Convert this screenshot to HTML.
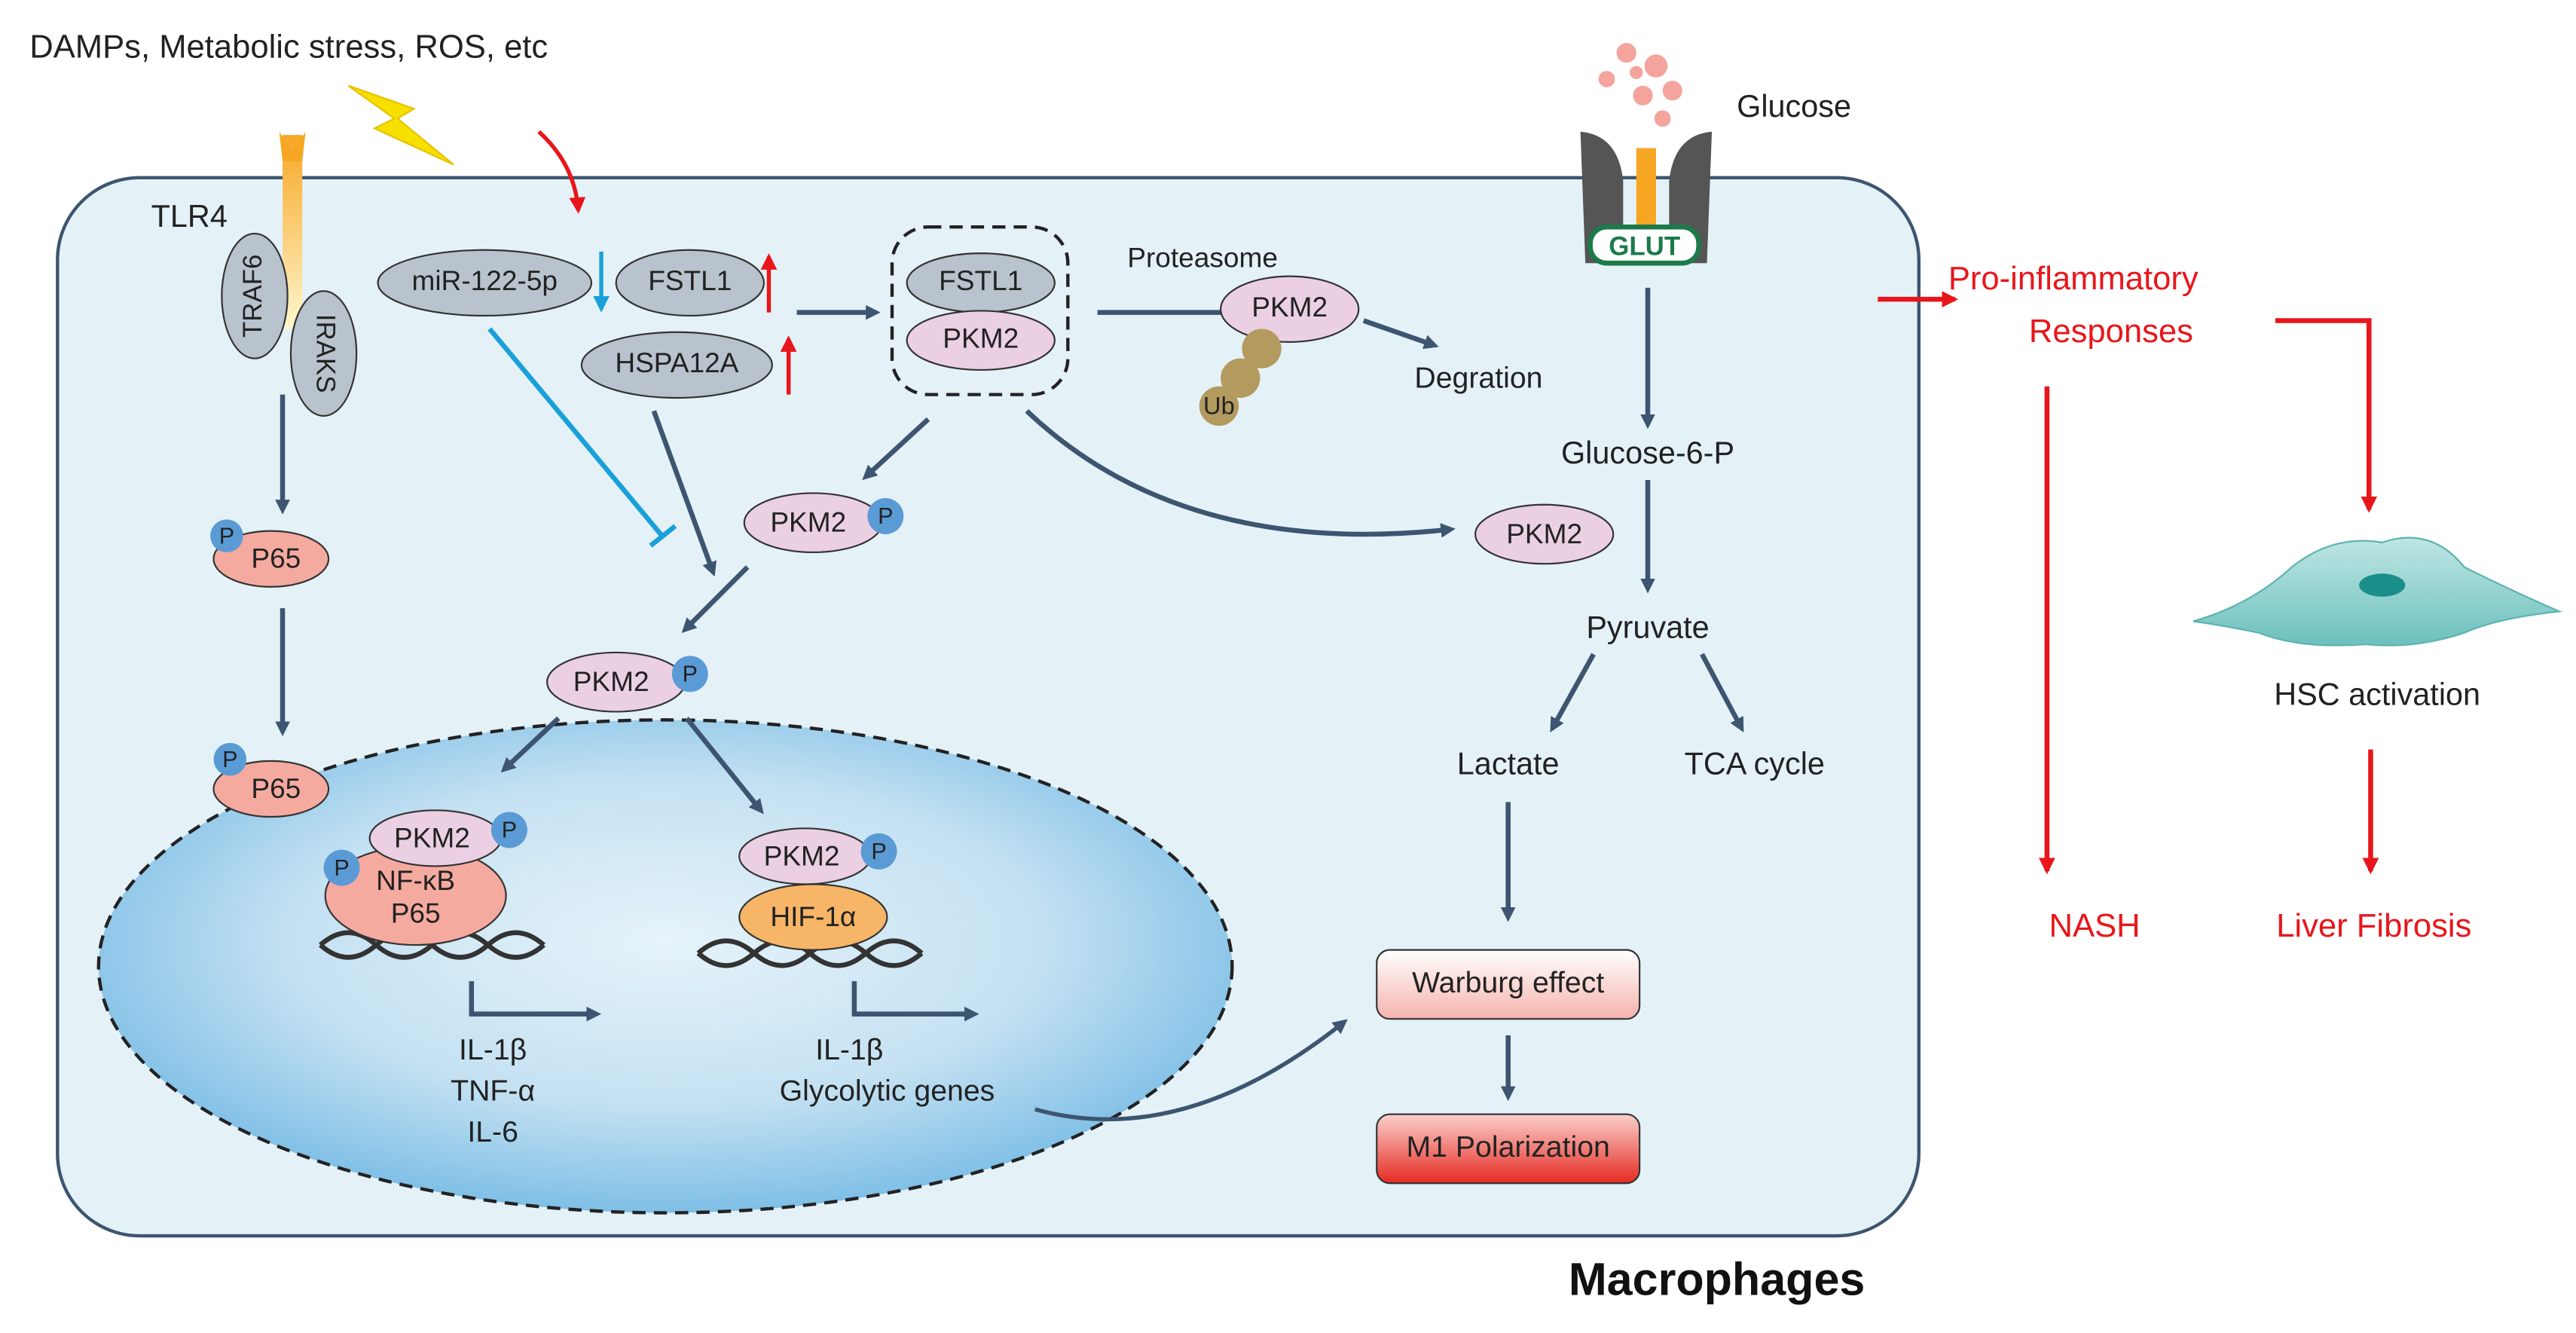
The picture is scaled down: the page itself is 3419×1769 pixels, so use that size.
<!DOCTYPE html>
<html><head><meta charset="utf-8"><style>html,body{margin:0;padding:0;background:#fff}svg{display:block}text{font-family:"Liberation Sans",Arial,sans-serif}</style></head><body>
<svg width="3419" height="1769" viewBox="0 0 1568 811" xmlns="http://www.w3.org/2000/svg">
<defs>
<radialGradient id="nuc" cx="50%" cy="45%" r="55%"><stop offset="0" stop-color="#e6f3fa"/><stop offset="0.6" stop-color="#c4e1f2"/><stop offset="1" stop-color="#7fbfe6"/></radialGradient>
<linearGradient id="wb" x1="0" y1="0" x2="0" y2="1"><stop offset="0" stop-color="#fff"/><stop offset="1" stop-color="#f5b3ad"/></linearGradient>
<linearGradient id="m1" x1="0" y1="0" x2="0" y2="1"><stop offset="0" stop-color="#fbd0cc"/><stop offset="1" stop-color="#e52a22"/></linearGradient>
<linearGradient id="tlr" x1="0" y1="0" x2="0" y2="1"><stop offset="0" stop-color="#f6a623"/><stop offset="1" stop-color="#fff7d0"/></linearGradient>
<linearGradient id="hsc" x1="0" y1="0" x2="0" y2="1"><stop offset="0" stop-color="#bfe6e4"/><stop offset="1" stop-color="#6cc0bd"/></linearGradient>
<marker id="ad" markerWidth="9" markerHeight="9" refX="6" refY="4.5" orient="auto" markerUnits="userSpaceOnUse"><path d="M0,0 L9,4.5 L0,9 Z" fill="#3d5570"/></marker>
<marker id="ar" markerWidth="10" markerHeight="10" refX="8" refY="5" orient="auto" markerUnits="userSpaceOnUse"><path d="M0,0 L10,5 L0,10 Z" fill="#e8161b"/></marker>
<marker id="ab" markerWidth="10" markerHeight="10" refX="8" refY="5" orient="auto" markerUnits="userSpaceOnUse"><path d="M0,0 L10,5 L0,10 Z" fill="#1aa0d8"/></marker>
</defs>
<text x="18" y="35" font-size="20" fill="#222">DAMPs, Metabolic stress, ROS, etc</text>
<polygon points="212,52 252,66 242,72 276,100 228,78 240,72" fill="#f7e000" stroke="#e6c200"/>
<rect x="35" y="108" width="1133" height="644" rx="50" fill="#e4f2f8" stroke="#3d5570" stroke-width="2"/>
<path d="M328,80 Q350,100 352,128" stroke="#e8161b" stroke-width="2.5" fill="none" marker-end="url(#ar)"/>
<ellipse cx="405" cy="588" rx="345" ry="150" fill="url(#nuc)" stroke="#222" stroke-width="2" stroke-dasharray="8,5"/>
<rect x="172" y="82" width="12" height="118" fill="url(#tlr)"/>
<polygon points="170,80 178,92 186,80 184,98 172,98" fill="#f6a623"/>
<text x="92" y="138" font-size="19" fill="#222">TLR4</text>
<ellipse cx="155" cy="180" rx="20" ry="38" fill="#b9c3cd" stroke="#333"/>
<text x="155" y="180" font-size="16" fill="#222" text-anchor="middle" dominant-baseline="middle" transform="rotate(-90 155 180)">TRAF6</text>
<ellipse cx="197" cy="215" rx="20" ry="38" fill="#b9c3cd" stroke="#333"/>
<text x="197" y="215" font-size="16" fill="#222" text-anchor="middle" dominant-baseline="middle" transform="rotate(90 197 215)">IRAKS</text>
<g stroke="#3d5570" stroke-width="3" fill="none" marker-end="url(#ad)">
<line x1="172" y1="240" x2="172" y2="310"/><line x1="172" y1="370" x2="172" y2="445"/>
<line x1="485" y1="190" x2="533" y2="190"/>
<line x1="398" y1="250" x2="434" y2="348"/>
<line x1="565" y1="255" x2="527" y2="290"/>
<path d="M625,250 Q720,340 883,322"/>
<line x1="455" y1="345" x2="417" y2="383"/>
<line x1="340" y1="437" x2="307" y2="468"/><line x1="418" y1="437" x2="463" y2="493"/>
<polyline points="287,597 287,617 363,617"/><polyline points="520,597 520,617 593,617"/>
<path d="M630,675 Q720,700 818,622" stroke-width="2.5"/>
<line x1="830" y1="195" x2="873" y2="210"/>
<line x1="1003" y1="175" x2="1003" y2="258"/><line x1="1003" y1="292" x2="1003" y2="358"/>
<line x1="970" y1="398" x2="945" y2="443"/><line x1="1036" y1="398" x2="1060" y2="443"/>
<line x1="918" y1="488" x2="918" y2="558"/><line x1="918" y1="630" x2="918" y2="667"/>
</g>
<line x1="668" y1="190" x2="762" y2="190" stroke="#3d5570" stroke-width="3"/><line x1="764" y1="180" x2="764" y2="200" stroke="#3d5570" stroke-width="3"/>
<line x1="298" y1="200" x2="403" y2="326" stroke="#1aa0d8" stroke-width="3"/><line x1="396" y1="332" x2="411" y2="320" stroke="#1aa0d8" stroke-width="3"/>
<line x1="366" y1="153" x2="366" y2="188" stroke="#1aa0d8" stroke-width="2.5" marker-end="url(#ab)"/>
<line x1="468" y1="190" x2="468" y2="156" stroke="#e8161b" stroke-width="2.5" marker-end="url(#ar)"/>
<line x1="480" y1="240" x2="480" y2="206" stroke="#e8161b" stroke-width="2.5" marker-end="url(#ar)"/>
<g font-size="17" fill="#222" text-anchor="middle" dominant-baseline="middle">
<ellipse cx="295" cy="172" rx="65" ry="20" fill="#b9c3cd" stroke="#333"/><text x="295" y="172">miR-122-5p</text>
<ellipse cx="420" cy="172" rx="45" ry="20" fill="#b9c3cd" stroke="#333"/><text x="420" y="172">FSTL1</text>
<ellipse cx="412" cy="222" rx="58" ry="20" fill="#b9c3cd" stroke="#333"/><text x="412" y="222">HSPA12A</text>
<rect x="543" y="138" width="107" height="102" rx="22" fill="none" stroke="#222" stroke-width="2" stroke-dasharray="8,5"/>
<ellipse cx="597" cy="172" rx="45" ry="18" fill="#b9c3cd" stroke="#333"/><text x="597" y="172">FSTL1</text>
<ellipse cx="597" cy="207" rx="45" ry="18" fill="#ebd0e3" stroke="#333"/><text x="597" y="207">PKM2</text>
<text x="732" y="158">Proteasome</text>
<ellipse cx="785" cy="188" rx="42" ry="20" fill="#ebd0e3" stroke="#333"/><text x="785" y="188">PKM2</text>
<circle cx="768" cy="212" r="12" fill="#b39a5e"/><circle cx="755" cy="230" r="12" fill="#b39a5e"/><circle cx="742" cy="247" r="12" fill="#b39a5e"/><text x="742" y="248" font-size="15">Ub</text>
<text x="900" y="231" font-size="18">Degration</text>
<ellipse cx="165" cy="340" rx="35" ry="17" fill="#f5aaa0" stroke="#333"/><text x="168" y="341">P65</text>
<circle cx="138" cy="326" r="10" fill="#5b9bd5"/><text x="138" y="327" font-size="14">P</text>
<ellipse cx="165" cy="480" rx="35" ry="17" fill="#f5aaa0" stroke="#333"/><text x="168" y="481">P65</text>
<circle cx="140" cy="462" r="10" fill="#5b9bd5"/><text x="140" y="463" font-size="14">P</text>
<ellipse cx="495" cy="318" rx="42" ry="18" fill="#ebd0e3" stroke="#333"/><text x="492" y="319">PKM2</text>
<circle cx="539" cy="314" r="11" fill="#5b9bd5"/><text x="539" y="315" font-size="14">P</text>
<ellipse cx="940" cy="325" rx="42" ry="18" fill="#ebd0e3" stroke="#333"/><text x="940" y="326">PKM2</text>
<ellipse cx="375" cy="415" rx="42" ry="18" fill="#ebd0e3" stroke="#333"/><text x="372" y="416">PKM2</text>
<circle cx="420" cy="410" r="11" fill="#5b9bd5"/><text x="420" y="411" font-size="14">P</text>
<path d="M195,575 Q212,560 229,575 T263,575 T297,575 T331,575 M195,575 Q212,590 229,575 T263,575 T297,575 T331,575" stroke="#333" stroke-width="3" fill="none"/>
<ellipse cx="253" cy="545" rx="55" ry="30" fill="#f5aaa0" stroke="#333"/><text x="253" y="537">NF-κB</text><text x="253" y="557">P65</text>
<ellipse cx="265" cy="510" rx="40" ry="17" fill="#ebd0e3" stroke="#333"/><text x="263" y="511">PKM2</text>
<circle cx="310" cy="505" r="11" fill="#5b9bd5"/><text x="310" y="506" font-size="14">P</text>
<circle cx="208" cy="528" r="11" fill="#5b9bd5"/><text x="208" y="529" font-size="14">P</text>
<path d="M425,580 Q442,565 459,580 T493,580 T527,580 T561,580 M425,580 Q442,595 459,580 T493,580 T527,580 T561,580" stroke="#333" stroke-width="3" fill="none"/>
<ellipse cx="495" cy="558" rx="45" ry="20" fill="#f7b567" stroke="#333"/><text x="495" y="559">HIF-1α</text>
<ellipse cx="490" cy="521" rx="40" ry="17" fill="#ebd0e3" stroke="#333"/><text x="488" y="522">PKM2</text>
<circle cx="535" cy="518" r="11" fill="#5b9bd5"/><text x="535" y="519" font-size="14">P</text>
<text x="300" y="640" font-size="18">IL-1β</text><text x="300" y="665" font-size="18">TNF-α</text><text x="300" y="690" font-size="18">IL-6</text>
<text x="517" y="640" font-size="18">IL-1β</text><text x="540" y="665" font-size="18">Glycolytic genes</text>
<text x="1003" y="277" font-size="19">Glucose-6-P</text><text x="1003" y="383" font-size="19">Pyruvate</text>
<text x="918" y="466" font-size="19">Lactate</text><text x="1068" y="466" font-size="19">TCA cycle</text>
<rect x="838" y="578" width="160" height="42" rx="8" fill="url(#wb)" stroke="#333"/><text x="918" y="599" font-size="18">Warburg effect</text>
<rect x="838" y="678" width="160" height="42" rx="8" fill="url(#m1)" stroke="#333"/><text x="918" y="699" font-size="18">M1 Polarization</text>
<text x="1092" y="66" font-size="19">Glucose</text>
</g>
<g fill="#f4a49c"><circle cx="990" cy="32" r="6"/><circle cx="1008" cy="40" r="7"/><circle cx="978" cy="48" r="5"/><circle cx="1000" cy="58" r="6"/><circle cx="1018" cy="55" r="6"/><circle cx="1012" cy="72" r="5"/><circle cx="996" cy="44" r="4"/></g>
<path d="M962,80 Q985,82 988,110 L988,160 L965,160 Z" fill="#555"/><path d="M1042,80 Q1019,82 1016,110 L1016,160 L1039,160 Z" fill="#555"/>
<rect x="996" y="90" width="12" height="70" fill="#f6a623"/>
<rect x="968" y="138" width="66" height="22" rx="10" fill="#fff" stroke="#1c7a4a" stroke-width="3"/>
<text x="1001" y="155" font-size="16" font-weight="bold" fill="#1c7a4a" text-anchor="middle">GLUT</text>
<text x="1045" y="788" font-size="28" font-weight="bold" fill="#111" text-anchor="middle">Macrophages</text>
<g stroke="#e8161b" stroke-width="3" fill="none" marker-end="url(#ar)">
<line x1="1143" y1="182" x2="1190" y2="182"/>
<polyline points="1385,195 1442,195 1442,310"/>
<line x1="1246" y1="235" x2="1246" y2="530"/>
<line x1="1443" y1="456" x2="1443" y2="530"/>
</g>
<g font-size="20" fill="#e8161b" text-anchor="middle">
<text x="1262" y="176">Pro-inflammatory</text><text x="1285" y="208">Responses</text>
<text x="1275" y="570">NASH</text><text x="1445" y="570">Liver Fibrosis</text>
</g>
<path d="M1335,378 Q1370,368 1395,345 Q1420,325 1450,330 Q1480,320 1500,345 Q1530,360 1558,372 Q1520,376 1500,385 Q1470,395 1440,392 Q1400,395 1375,385 Q1350,380 1335,378 Z" fill="url(#hsc)" stroke="#5cb3b0"/>
<ellipse cx="1450" cy="356" rx="14" ry="7" fill="#1a8f89"/>
<text x="1447" y="429" font-size="19" fill="#222" text-anchor="middle">HSC activation</text>
</svg>
</body></html>
